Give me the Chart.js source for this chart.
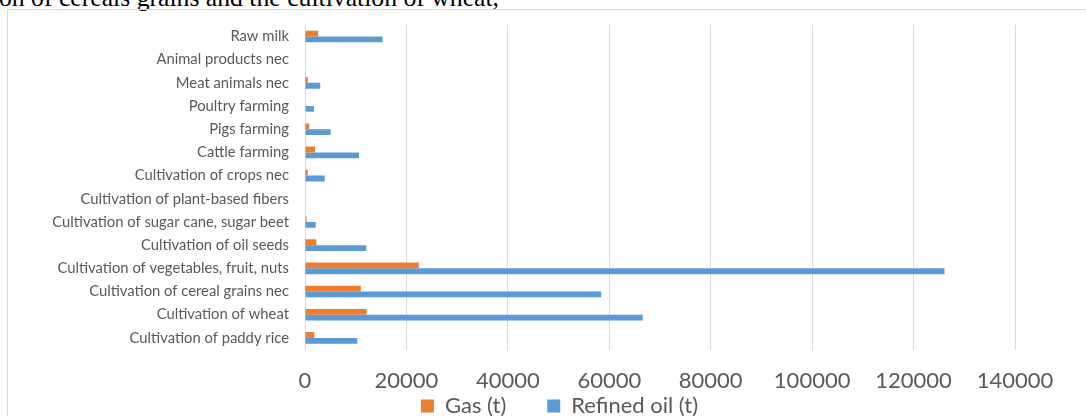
<!DOCTYPE html>
<html>
<head>
<meta charset="utf-8">
<script src="https://cdn.jsdelivr.net/npm/chart.js@4.4.1/dist/chart.umd.min.js"></script>
<style>
  html, body { margin: 0; padding: 0; width: 1086px; height: 416px; overflow: hidden; background: #fff; }
  #caption { position: absolute; left: -1px; top: -15px; font: 25.7px/25.7px "Liberation Serif", "Times New Roman", serif; color: #000; white-space: nowrap; }
  #frame { position: absolute; left: 7px; top: 9px; width: 1200px; height: 500px; border-left: 1px solid #d9d9d9; border-top: 1px solid #d9d9d9; }
  #chart { position: absolute; left: 0; top: 0; }
</style>
</head>
<body>
<div id="caption">on of cereals grains and the cultivation of wheat,</div>
<div id="frame"></div>
<canvas id="chart" width="1086" height="416"></canvas>
<script>
// カテゴリ (上から順)
const categories = [
  "Raw milk",
  "Animal products nec",
  "Meat animals nec",
  "Poultry farming",
  "Pigs farming",
  "Cattle farming",
  "Cultivation of crops nec",
  "Cultivation of plant-based fibers",
  "Cultivation of sugar cane, sugar beet",
  "Cultivation of oil seeds",
  "Cultivation of vegetables, fruit, nuts",
  "Cultivation of cereal grains nec",
  "Cultivation of wheat",
  "Cultivation of paddy rice"
];

// 系列
const gasT = [2600, 0, 550, 0, 830, 1980, 550, 0, 300, 2250, 22440, 11000, 12140, 1840];
const refinedOilT = [15300, 0, 3000, 1770, 5050, 10650, 3890, 0, 2120, 12080, 126100, 58400, 66600, 10300];

// 横軸の目盛
const xTicks = [0, 20000, 40000, 60000, 80000, 100000, 120000, 140000];

const labelColor = "#595959";
const gridColor = "#d9d9d9";
const bigFont = 22;
const legendGap = 41;
const legendLeft = 104;   // 凡例の中心合わせ
const legendMidY = 406;   // 凡例テキストの中心

// 凡例の位置を調整
const legendPlace = {
  id: "legendPlace",
  afterLayout(chart) {
    const lg = chart.legend;
    lg.left = legendLeft;
    lg.top = legendMidY - bigFont / 2 - legendGap;
  }
};

new Chart(document.getElementById("chart"), {
  type: "bar",
  data: {
    labels: categories,
    datasets: [
      { label: "Gas (t)", data: gasT, backgroundColor: "#ED7D31" },
      { label: "Refined oil (t)", data: refinedOilT, backgroundColor: "#5B9BD5" }
    ]
  },
  plugins: [legendPlace],
  options: {
    indexAxis: "y",
    responsive: false,
    animation: false,
    categoryPercentage: 0.5,
    barPercentage: 1,
    layout: { padding: { top: 22, right: 71, left: 0, bottom: 0 } },
    plugins: {
      tooltip: { enabled: false },
      legend: {
        position: "bottom",
        maxHeight: 21,
        labels: {
          color: labelColor,
          font: { family: "Lato", size: bigFont },
          boxWidth: 13,
          boxHeight: 13,
          padding: legendGap
        }
      }
    },
    scales: {
      x: {
        min: 0,
        max: 140000,
        afterBuildTicks: (scale) => { scale.ticks = xTicks.map(v => ({ value: v })); },
        afterFit: (scale) => { scale.height = 45.5; },
        grid: { color: gridColor, lineWidth: 1, drawTicks: false },
        border: { display: false },
        ticks: {
          color: labelColor,
          font: { family: "Lato", size: bigFont },
          padding: 18,
          callback: (v) => String(v)
        }
      },
      y: {
        afterFit: (scale) => { scale.width = 305; },
        grid: { display: false, drawTicks: false },
        border: { display: false },
        ticks: {
          color: labelColor,
          font: { family: "Lato", size: 14.8 },
          padding: 16,
          autoSkip: false
        }
      }
    }
  }
});
</script>
</body>
</html>
